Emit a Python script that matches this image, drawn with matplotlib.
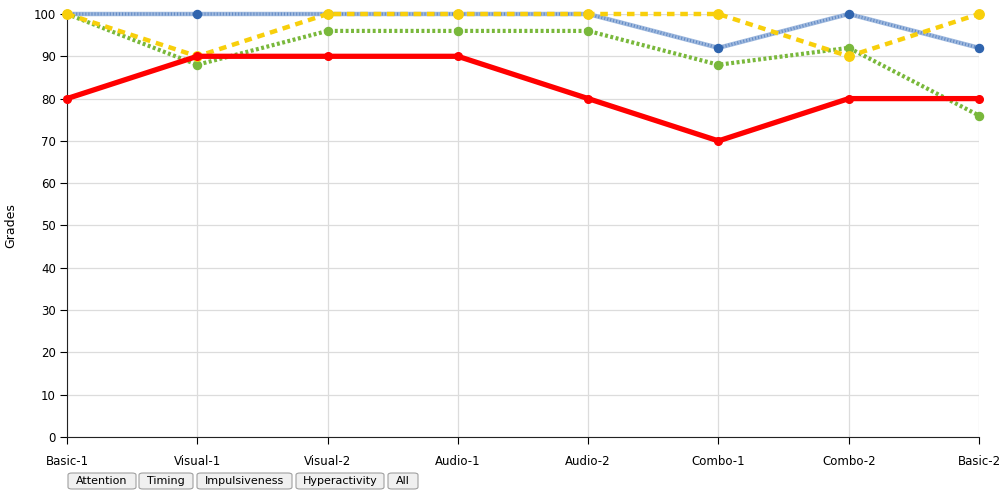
import matplotlib
matplotlib.use("Agg")
import matplotlib.pyplot as plt
from matplotlib.patches import FancyBboxPatch

categories = ["Basic-1", "Visual-1", "Visual-2", "Audio-1", "Audio-2", "Combo-1", "Combo-2", "Basic-2"]
attention = [100, 100, 100, 100, 100, 92, 100, 92]
impulsiveness = [100, 88, 96, 96, 96, 88, 92, 76]
timing = [100, 90, 100, 100, 100, 100, 90, 100]
hyperactivity = [80, 90, 90, 90, 80, 70, 80, 80]
buttons = ["Attention", "Timing", "Impulsiveness", "Hyperactivity", "All"]
yticks = list(range(0, 101, 10))

W, H = 1005, 493
fig = plt.figure(figsize=(W / 100, H / 100), dpi=100)
ax = fig.add_axes([67 / W, 1 - 437 / H, (979 - 67) / W, (437 - 14) / H])

x = list(range(len(categories)))

# blue: light band with fine darker stripes on top
ax.plot(x, attention, color="#9fb9de", lw=3.2, zorder=3, clip_on=False)
ax.plot(x, attention, color="#4a78bb", lw=2.2, dashes=(0.35, 0.65), alpha=0.7, zorder=3, clip_on=False)
ax.plot(x, attention, ls="none", marker="o", ms=5.8, color="#2f64ae", zorder=3, clip_on=False)

ax.plot(x, impulsiveness, color="#79b83b", lw=3, dashes=(0.7, 0.6), marker="o", ms=5.8,
        zorder=4, clip_on=False)
ax.plot(x, timing, color="#f8cf0b", lw=3.2, dashes=(1.7, 1.3), marker="o", ms=6.8, zorder=5, clip_on=False)
ax.plot(x, hyperactivity, color="#ff0000", lw=3.8, marker="o", ms=5.5, zorder=6, clip_on=False)

ax.set_xlim(0, len(categories) - 1)
ax.set_ylim(0, 100)
ax.set_xticks(x)
ax.set_xticklabels(categories, fontsize=8.5)
ax.set_yticks(yticks)
ax.tick_params(axis="y", labelsize=8.5, length=5, width=0.8, pad=3)
ax.tick_params(axis="x", length=5, width=0.8, pad=8, direction="out")
ax.grid(True, color="#dcdcdc", lw=0.9)
ax.set_axisbelow(True)
for side in ["top", "right"]:
    ax.spines[side].set_visible(False)
ax.spines["left"].set_color("#222222")
ax.spines["bottom"].set_color("#222222")
ax.set_ylabel("Grades", fontsize=9, labelpad=12)

# toggle buttons under the chart
btn_x = [(68, 136), (139, 193), (197, 292), (296, 384), (388, 418)]
for label, (x0, x1) in zip(buttons, btn_x):
    y0, y1 = 473, 489
    box = FancyBboxPatch((x0 / W, 1 - y1 / H), (x1 - x0) / W, (y1 - y0) / H,
                         boxstyle="round,pad=0,rounding_size=0.004", transform=fig.transFigure,
                         facecolor="#f0f0f0", edgecolor="#a0a0a0", lw=0.8)
    fig.patches.append(box)
    fig.text((x0 + x1) / 2 / W, 1 - (y0 + y1) / 2 / H, label, ha="center", va="center", fontsize=8)

fig.savefig("out.png", dpi=100)
